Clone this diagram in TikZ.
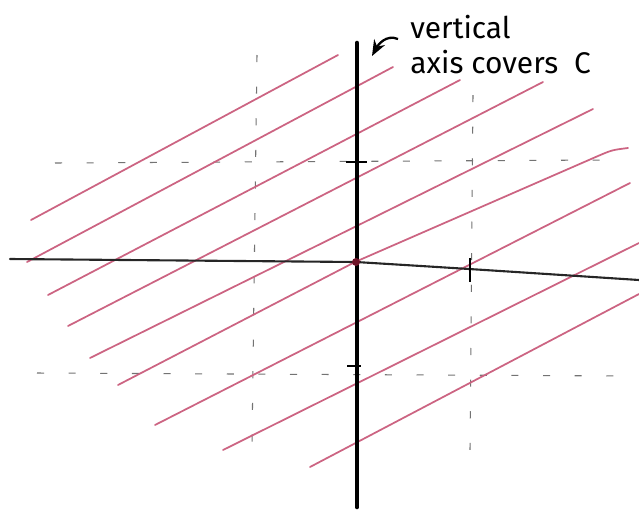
\documentclass[tikz,border=0pt]{standalone}
\usepackage{fontspec}
\setmainfont{Fira Sans}
\usetikzlibrary{arrows.meta}
\definecolor{pinkline}{RGB}{204,100,130}
\definecolor{dotred}{RGB}{110,20,40}
\begin{document}
\begin{tikzpicture}[x=0.02cm,y=-0.02cm,
  hatch/.style={draw=pinkline,line width=1.0pt,line cap=round},
  axisv/.style={draw=black,line width=2.6pt,line cap=round},
  axish/.style={draw=black!85,line width=1.2pt,line cap=round},
  gridd/.style={draw=black!55,line width=0.6pt,dash pattern=on 4pt off 14pt},
  tickm/.style={draw=black,line width=1.2pt},
  lbl/.style={font=\fontsize{17}{20}\selectfont,align=left,inner sep=0pt,anchor=north west}]
\useasboundingbox (0,0) rectangle (639,511);
% dashed grid
\coordinate (ga1) at (257,55);  \coordinate (ga2) at (252,445);
\coordinate (gb1) at (473,95);  \coordinate (gb2) at (470,450);
\coordinate (gc1) at (55,163);  \coordinate (gc2) at (605,160);
\coordinate (gd1) at (37,373);  \coordinate (gd2) at (630,376);
\draw[gridd] (ga1) -- (ga2);
\draw[gridd] (gb1) -- (gb2);
\draw[gridd] (gc1) -- (gc2);
\draw[gridd] (gd1) -- (gd2);
% pink hatch lines
\draw[hatch] (31,220) -- (338,55);
\draw[hatch] (27,262) -- (393,67);
\draw[hatch] (48,295) -- (460,80);
\draw[hatch] (68,326) -- (543,82);
\draw[hatch] (90,358) -- (593,109);
\draw[hatch] (118,385) -- (355,262) -- (598,156) .. controls (612,150) .. (628,148);
\draw[hatch] (155,425) -- (630,183);
\draw[hatch] (223,450) -- (639,243);
\draw[hatch] (310,467) -- (639,294);
% axes
\coordinate (xl) at (10,259);
\coordinate (o) at (356,262);
\coordinate (xr) at (639,280);
\coordinate (yt) at (357,43);
\coordinate (yb) at (357,507);
\draw[axish] (xl) -- (o) .. controls (470,269) .. (xr);
\draw[axisv] (yt) -- (yb);
% ticks
\draw[tickm] (346,162) -- (367,162);
\draw[tickm] (347,366) -- (361,366);
\draw[tickm,line width=1.6pt] (470,258) -- (470,282);
% origin dot
\fill[dotred] (o) circle (4);
% label and arrow
\node[lbl] (label) at (410,15) {vertical\\axis covers\ \ C};
\coordinate (tail) at (398,39);
\coordinate (tip) at (372,56);
\draw[line width=1.3pt,-{Stealth[length=9pt,width=7pt]}] (tail) .. controls (386,34) and (378,45) .. (tip);
\end{tikzpicture}
\end{document}
